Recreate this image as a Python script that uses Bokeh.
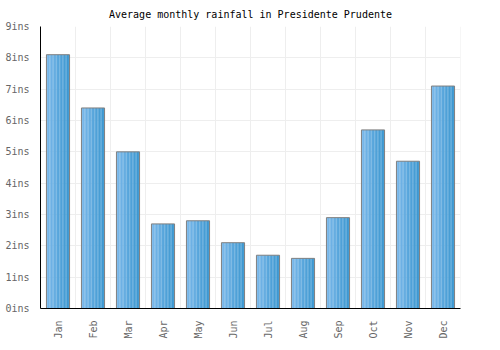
import math
from bokeh.plotting import figure
from bokeh.models import FactorRange, FixedTicker, PrintfTickFormatter, ColumnDataSource
from bokeh.transform import dodge
from bokeh.embed import file_html
from bokeh.resources import INLINE

months = ["Jan", "Feb", "Mar", "Apr", "May", "Jun", "Jul", "Aug", "Sep", "Oct", "Nov", "Dec"]
rainfall = [8.1, 6.4, 5.0, 2.7, 2.8, 2.1, 1.7, 1.6, 2.9, 5.7, 4.7, 7.1]
y_ticks = [0, 1, 2, 3, 4, 5, 6, 7, 8, 9]

src = ColumnDataSource(dict(month=months, value=rainfall, zero=[0] * len(months), top=[9] * len(months)))

p = figure(width=500, height=350, x_range=FactorRange(*months, range_padding=0),
           y_range=(0, 9), output_backend="svg", toolbar_location=None,
           title="Average monthly rainfall in Presidente Prudente",
           min_border_left=40, min_border_right=40, min_border_bottom=42, min_border_top=10)

p.title.align = "center"
p.title.text_font = "DejaVu Sans Mono"
p.title.text_font_size = "10px"
p.title.text_font_style = "normal"
p.title.text_color = "#000000"
p.title.standoff = 13

p.background_fill_color = "white"
p.border_fill_color = "white"
p.outline_line_color = None

# vertical grid lines at category boundaries
p.xgrid.grid_line_color = None
p.segment(x0=dodge("month", 0.5, range=p.x_range), y0="zero",
          x1=dodge("month", 0.5, range=p.x_range), y1="top",
          source=src, line_color="#eeeeee", line_width=1)

p.ygrid.grid_line_color = "#eeeeee"
p.ygrid.ticker = FixedTicker(ticks=y_ticks)

# gradient bars made of strips
n = 16
bw = 0.66
c0 = (122, 184, 234)
c1 = (58, 150, 207)
for i in range(n):
    t = i / (n - 1)
    col = "#%02x%02x%02x" % tuple(int(round(a + (b - a) * t)) for a, b in zip(c0, c1))
    off = -bw / 2 + bw * (i + 0.5) / n
    p.vbar(x=dodge("month", off, range=p.x_range), top="value", bottom=0,
           width=bw / n * 1.05, source=src, fill_color=col, line_color=None)
p.vbar(x="month", top="value", bottom=0, width=bw, source=src,
       fill_color=None, line_color="#808080", line_width=1)

for ax in (p.xaxis[0], p.yaxis[0]):
    ax.axis_line_color = "#000000"
    ax.axis_line_width = 1
    ax.major_tick_line_color = None
    ax.minor_tick_line_color = None
    ax.major_label_text_font = "DejaVu Sans Mono"
    ax.major_label_text_font_size = "10px"
    ax.major_label_text_color = "#666666"

p.yaxis.ticker = FixedTicker(ticks=y_ticks)
p.yaxis.formatter = PrintfTickFormatter(format="%dins")
p.yaxis.major_label_standoff = 5
p.xaxis.major_label_orientation = math.pi / 2
p.xaxis.major_label_standoff = 6

open("out.html", "w").write(file_html(p, INLINE))
